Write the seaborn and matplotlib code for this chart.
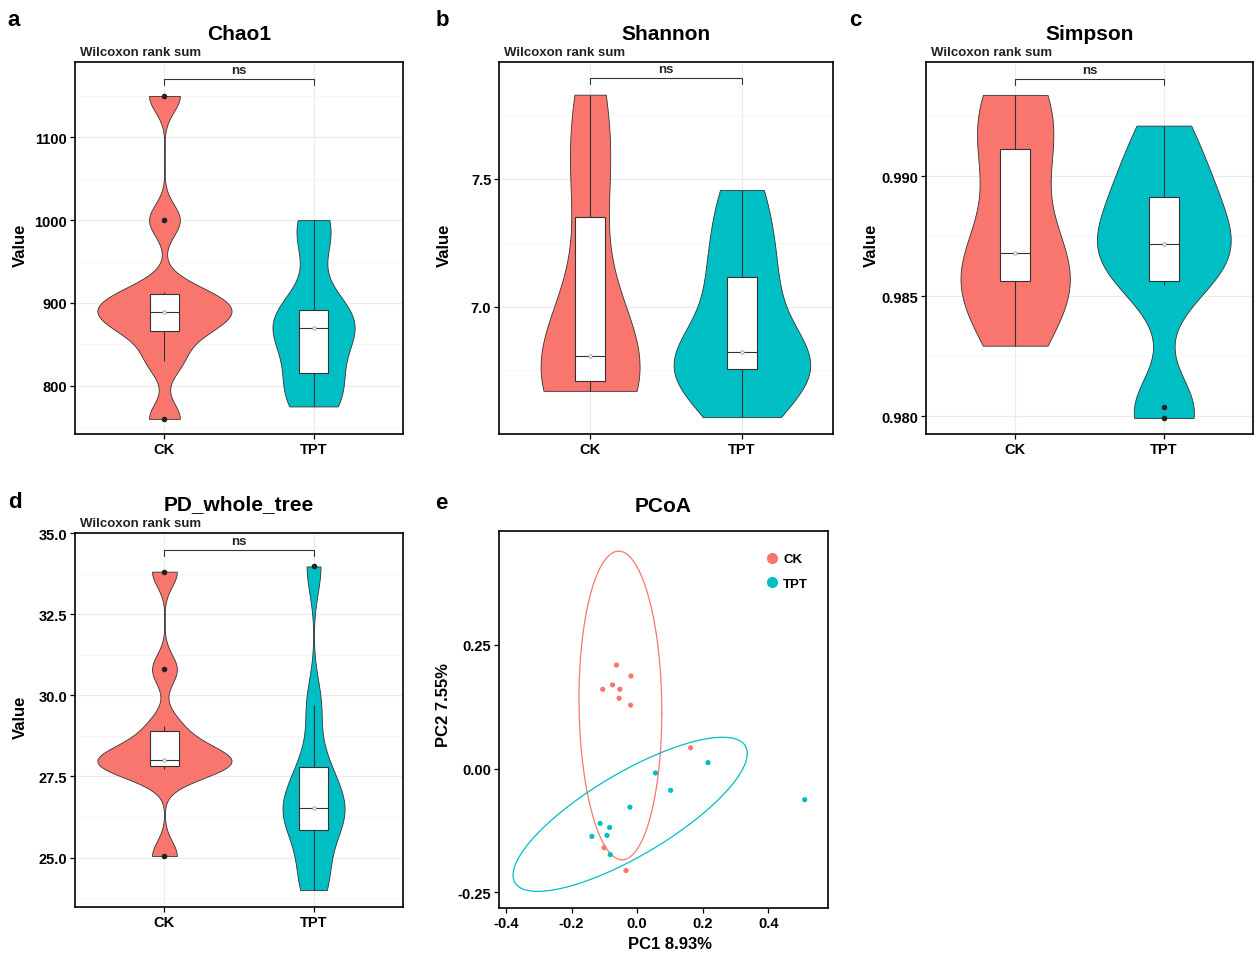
import numpy as np
import pandas as pd
import matplotlib
matplotlib.use("Agg")
import matplotlib.pyplot as plt
from matplotlib.lines import Line2D
from matplotlib.ticker import MultipleLocator, FormatStrFormatter
import seaborn as sns

# --- data ---
groups = ["CK", "TPT"]
colors = ["#F8766D", "#00BFC4"]

chao1_ck = [760, 830, 862, 878, 886, 892, 905, 913, 1000, 1150]
chao1_tpt = [775, 790, 805, 845, 862, 878, 885, 894, 975, 1000]
shannon_ck = [6.67, 6.69, 6.70, 6.74, 6.78, 6.836, 7.05, 7.45, 7.62, 7.83]
shannon_tpt = [6.567, 6.70, 6.75, 6.774, 6.80, 6.842, 7.05, 7.14, 7.30, 7.457]
simpson_ck = [0.98294, 0.9845, 0.9856, 0.9857, 0.9864, 0.98718, 0.9905, 0.99135, 0.9930, 0.99339]
simpson_tpt = [0.97993, 0.98037, 0.98547, 0.98619, 0.9870, 0.98736, 0.9885, 0.98937, 0.9905, 0.99211]
pdtree_ck = [25.05, 27.74, 27.78, 27.94, 27.98, 28.06, 28.45, 29.05, 30.8, 33.81]
pdtree_tpt = [24.0, 24.6, 25.7, 26.3, 26.4, 26.64, 27.3, 27.94, 29.71, 33.97]

pc1_ck = [-0.063, -0.019, -0.075, -0.105, -0.053, -0.055, -0.020, 0.163, -0.101, -0.034]
pc2_ck = [0.209, 0.187, 0.169, 0.160, 0.160, 0.142, 0.128, 0.042, -0.160, -0.206]
pc1_tpt = [0.216, 0.056, 0.102, -0.022, -0.113, -0.084, -0.092, -0.138, -0.082, 0.511]
pc2_tpt = [0.012, -0.009, -0.044, -0.078, -0.111, -0.119, -0.135, -0.137, -0.174, -0.063]

W, H = 1257, 954


def set_style():
    sns.set_theme(style="white")
    plt.rcParams["font.family"] = ["Liberation Sans", "DejaVu Sans"]
    plt.rcParams["font.weight"] = "bold"
    plt.rcParams["text.color"] = "black"
    plt.rcParams["axes.labelcolor"] = "black"
    plt.rcParams["axes.unicode_minus"] = False


def add_ax(fig, l, t, r, b):
    return fig.add_axes([l / W, 1 - b / H, (r - l) / W, (b - t) / H])


def ptext(fig, x, y, s, **kw):
    fig.text(x / W, 1 - y / H, s, **kw)


def nrd0(kde):
    # same bandwidth rule as R's bw.nrd0 (ggplot default)
    x = kde.dataset.ravel()
    sd = x.std(ddof=1)
    q75, q25 = np.percentile(x, [75, 25])
    bw = 0.9 * min(sd, (q75 - q25) / 1.34) * len(x) ** -0.2
    return bw / sd


def frame(ax):
    for sp in ax.spines.values():
        sp.set_visible(True)
        sp.set_color("black")
        sp.set_linewidth(1.2)
    ax.tick_params(axis="both", which="major", direction="out", length=3.5, width=0.9,
                   color="black", labelsize=10.5, labelcolor="black", pad=2,
                   bottom=True, left=True)
    ax.tick_params(axis="both", which="minor", length=0)


def violin_panel(ax, ck, tpt, ylim, step, fmt, bracket_y):
    df = pd.DataFrame({"group": ["CK"] * len(ck) + ["TPT"] * len(tpt),
                       "value": list(ck) + list(tpt)})
    sns.violinplot(data=df, x="group", y="value", hue="group", palette=colors,
                   order=groups, hue_order=groups, cut=0, bw_method=nrd0,
                   density_norm="area", common_norm=True, width=0.9, inner=None,
                   linewidth=0.6, linecolor="#333333", saturation=1, gridsize=300,
                   legend=False, ax=ax)
    sns.boxplot(data=df, x="group", y="value", order=groups, width=0.2, color="white",
                saturation=1, linecolor="#333333", linewidth=0.8, showcaps=False,
                fliersize=3, flierprops={"marker": "o", "markerfacecolor": "#222222",
                                         "markeredgecolor": "#222222"}, ax=ax)
    med = df.groupby("group")["value"].median().reindex(groups)
    ax.scatter([0, 1], med.values, s=6, facecolor="white", edgecolor="#888888",
               linewidth=0.5, zorder=6)

    ax.set_xlim(-0.6, 1.6)
    ax.set_ylim(*ylim)
    ax.yaxis.set_major_locator(MultipleLocator(step))
    ax.yaxis.set_minor_locator(MultipleLocator(step / 2))
    ax.yaxis.set_major_formatter(FormatStrFormatter(fmt))
    ax.set_axisbelow(True)
    ax.grid(True, which="major", color="#EBEBEB", linewidth=0.8)
    ax.grid(True, which="minor", axis="y", color="#F3F3F3", linewidth=0.5)
    ax.set_xlabel("")
    ax.set_ylabel("")
    frame(ax)

    # significance bracket
    rng = ylim[1] - ylim[0]
    tip = 0.016 * rng
    ax.plot([0, 0, 1, 1], [bracket_y - tip, bracket_y, bracket_y, bracket_y - tip],
            color="#333333", linewidth=0.8, zorder=7)
    ax.text(0.5, bracket_y + 0.008 * rng, "ns", ha="center", va="bottom",
            fontsize=9.5, fontweight="bold", color="#222222")


def trob_ellipse(x, y, fq=4.2565, nu=5, segments=120):
    # robust t covariance (MASS::cov.trob) + 95% ellipse, like ggplot stat_ellipse
    X = np.column_stack([x, y])
    n, p = X.shape
    wt = np.ones(n)
    loc = X.mean(axis=0)
    for _ in range(25):
        w0 = wt
        Xc = X - loc
        _, d, vt = np.linalg.svd(np.sqrt(wt / wt.sum())[:, None] * Xc, full_matrices=False)
        q = ((Xc @ vt.T / d) ** 2).sum(axis=1)
        wt = (nu + p) / (nu + q)
        loc = (wt[:, None] * X).sum(axis=0) / wt.sum()
        if np.all(np.abs(wt - w0) < 0.01):
            break
    cov = (np.sqrt(wt)[:, None] * Xc).T @ (np.sqrt(wt)[:, None] * Xc) / wt.sum()
    L = np.linalg.cholesky(cov)
    r = np.sqrt(2 * fq)
    t = np.linspace(0, 2 * np.pi, segments + 1)
    circ = np.column_stack([np.cos(t), np.sin(t)])
    e = loc + r * circ @ L.T
    return e[:, 0], e[:, 1]


def run_and_plot():
    set_style()
    fig = plt.figure(figsize=(W / 100, H / 100), dpi=100)

    panels = [
        ("a", (14, 20), "Chao1", chao1_ck, chao1_tpt, (75, 63, 403, 435), (741.7, 1191), 100, "%d", 1170),
        ("b", (442, 20), "Shannon", shannon_ck, shannon_tpt, (499, 63, 833, 435), (6.501, 7.958), 0.5, "%.1f", 7.894),
        ("c", (855, 20), "Simpson", simpson_ck, simpson_tpt, (926, 63, 1253, 435), (0.97926, 0.99476), 0.005, "%.3f", 0.99405),
        ("d", (15, 503), "PD_whole_tree", pdtree_ck, pdtree_tpt, (75, 534, 403, 908), (23.48, 35.0), 2.5, "%.1f", 34.475),
    ]
    for letter, lpos, title, ck, tpt, box, ylim, step, fmt, by in panels:
        l, t, r, b = box
        ax = add_ax(fig, l, t, r, b)
        violin_panel(ax, ck, tpt, ylim, step, fmt, by)
        cx = (l + r) / 2
        ptext(fig, cx, t - 29, title, ha="center", va="center", fontsize=15, fontweight="bold")
        ptext(fig, l + 5, t - 10, "Wilcoxon rank sum", ha="left", va="center", fontsize=9.5,
              fontweight="bold", color="#222222")
        ptext(fig, l - 55, (t + b) / 2 - 4, "Value", ha="center", va="center", rotation=90,
              fontsize=12, fontweight="bold")
        ptext(fig, lpos[0], lpos[1], letter, ha="center", va="center", fontsize=16, fontweight="bold")

    # --- PCoA ---
    l, t, r, b = 499, 532, 828, 909
    ax = add_ax(fig, l, t, r, b)
    pc = pd.DataFrame({"PC1": pc1_ck + pc1_tpt, "PC2": pc2_ck + pc2_tpt,
                       "group": ["CK"] * len(pc1_ck) + ["TPT"] * len(pc1_tpt)})
    sns.scatterplot(data=pc, x="PC1", y="PC2", hue="group", hue_order=groups,
                    palette=colors, s=14, linewidth=0, legend=False, ax=ax, zorder=3)
    for g, c in zip(groups, colors):
        sub = pc[pc["group"] == g]
        ex, ey = trob_ellipse(sub["PC1"].values, sub["PC2"].values)
        ax.plot(ex, ey, color=c, linewidth=0.9, zorder=2)
    ax.set_xlim(-0.4213, 0.582)
    ax.set_ylim(-0.2817, 0.4798)
    ax.set_xticks([-0.4, -0.2, 0.0, 0.2, 0.4])
    ax.set_yticks([-0.25, 0.0, 0.25])
    ax.xaxis.set_major_formatter(FormatStrFormatter("%.1f"))
    ax.yaxis.set_major_formatter(FormatStrFormatter("%.2f"))
    ax.grid(False)
    ax.set_xlabel("")
    ax.set_ylabel("")
    frame(ax)
    handles = [Line2D([], [], marker="o", linestyle="", color=c, markersize=7) for c in colors]
    ax.legend(handles, groups, loc="upper right", bbox_to_anchor=(0.955, 0.955),
              frameon=False, fontsize=9.5, handletextpad=0.2, labelspacing=0.9,
              borderaxespad=0, handlelength=1.2)
    ptext(fig, (l + r) / 2, t - 25, "PCoA", ha="center", va="center", fontsize=15, fontweight="bold")
    ptext(fig, 670, 945, "PC1 8.93%", ha="center", va="center", fontsize=12, fontweight="bold")
    ptext(fig, l - 55, 705, "PC2 7.55%", ha="center", va="center", rotation=90,
          fontsize=12, fontweight="bold")
    ptext(fig, 441, 504, "e", ha="center", va="center", fontsize=16, fontweight="bold")

    fig.savefig("out.png", dpi=100, facecolor="white")


if __name__ == "__main__":
    run_and_plot()
